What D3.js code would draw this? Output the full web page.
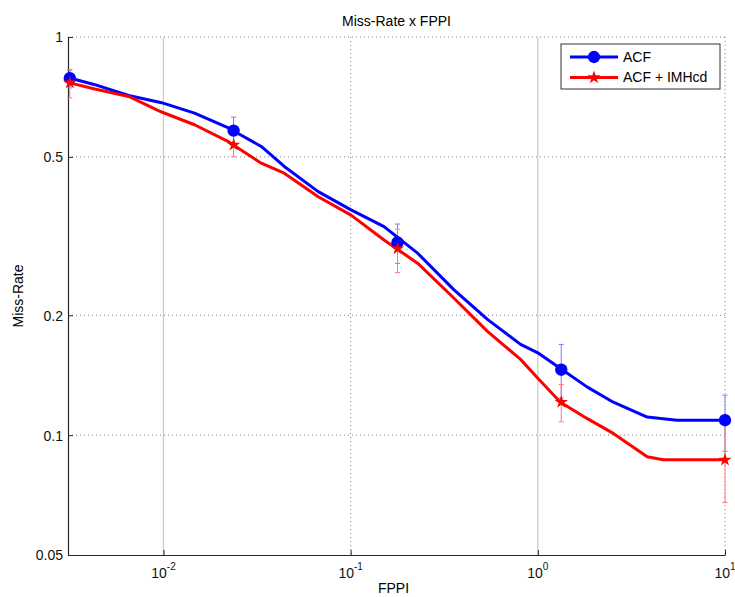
<!DOCTYPE html>
<html>
<head>
<meta charset="utf-8">
<script src="https://cdnjs.cloudflare.com/ajax/libs/d3/7.8.5/d3.min.js"></script>
<style>
  body { margin: 0; background: #fff; }
  svg { font-family: "Liberation Sans", Arial, sans-serif; }
</style>
</head>
<body>
<script>
// curve samples (FPPI vs miss rate)
const fppi = [0.00316, 0.0043, 0.00652, 0.00977, 0.01465, 0.02223, 0.0333, 0.0442, 0.0671, 0.1005,
              0.1508, 0.2287, 0.3556, 0.54, 0.809, 1.0, 1.321, 1.84, 2.531, 3.842, 4.675, 5.55, 10];
const acf = [0.789, 0.759, 0.713, 0.684, 0.644, 0.591, 0.531, 0.473, 0.409, 0.368,
             0.334, 0.286, 0.232, 0.195, 0.169, 0.161, 0.147, 0.132, 0.121, 0.111, 0.110, 0.109, 0.109];
const acfImh = [0.767, 0.740, 0.709, 0.648, 0.602, 0.546, 0.482, 0.455, 0.397, 0.357,
                0.309, 0.270, 0.221, 0.182, 0.155, 0.139, 0.121, 0.110, 0.101, 0.0883, 0.0867, 0.0867, 0.0867];

// markers with error bars
const markerFppi = [0.00316, 0.0237, 0.178, 1.334, 10];
const acfMark = [0.788, 0.582, 0.305, 0.146, 0.109];
const acfLo = [0.745, 0.539, 0.270, 0.124, 0.091];
const acfHi = [0.827, 0.629, 0.339, 0.169, 0.126];
const imhMark = [0.768, 0.536, 0.294, 0.121, 0.0867];
const imhLo = [0.703, 0.500, 0.256, 0.108, 0.0677];
const imhHi = [0.827, 0.568, 0.329, 0.134, 0.109];

const seriesNames = ["ACF", "ACF + IMHcd"];
const xTicks = [0.01, 0.1, 1, 10];
const xTickExp = ["-2", "-1", "0", "1"];
const yTicks = [0.05, 0.1, 0.2, 0.5, 1];
const yTickLabels = ["0.05", "0.1", "0.2", "0.5", "1"];

const W = 735, H = 597;
const L = 68, R = 725, T = 37, B = 555;

const svg = d3.select("body").append("svg")
  .attr("width", W).attr("height", H);

const x = d3.scaleLog().domain([Math.pow(10, -2.51), 10]).range([L, R]);
const y = d3.scaleLog().domain([0.05, 1]).range([B, T]);

// grid
const grid = svg.append("g");
// solid light lines at 10^-2 and 10^0, dotted at others
[0.01, 1].forEach(v => {
  grid.append("line")
    .attr("x1", x(v)).attr("x2", x(v)).attr("y1", T).attr("y2", B)
    .attr("stroke", "#c8c8c8").attr("stroke-width", 1.2);
});
[0.1, 10].forEach(v => {
  grid.append("line")
    .attr("x1", x(v)).attr("x2", x(v)).attr("y1", T).attr("y2", B)
    .attr("stroke", "#808080").attr("stroke-width", 1)
    .attr("stroke-dasharray", "1,3");
});
[0.1, 0.2, 0.5, 1].forEach(v => {
  grid.append("line")
    .attr("x1", L).attr("x2", R).attr("y1", y(v)).attr("y2", y(v))
    .attr("stroke", "#808080").attr("stroke-width", 1)
    .attr("stroke-dasharray", "1,3");
});

// axes
const xAxis = svg.append("g")
  .attr("transform", `translate(0,${B})`)
  .call(d3.axisBottom(x).tickValues(xTicks).tickSizeInner(-5).tickSizeOuter(0).tickPadding(10).tickFormat(""));
const yAxis = svg.append("g")
  .attr("transform", `translate(${L},0)`)
  .call(d3.axisLeft(y).tickValues(yTicks).tickSizeInner(-5).tickSizeOuter(0).tickPadding(5)
    .tickFormat((d, i) => yTickLabels[i]));
[xAxis, yAxis].forEach(a => {
  a.select(".domain").attr("stroke", "#262626").attr("stroke-width", 1.2);
  a.selectAll(".tick line").attr("stroke", "#262626");
});
yAxis.selectAll(".tick text")
  .attr("font-size", 14).attr("fill", "#111")
  .attr("x", -5).attr("dy", "0.35em");

// x labels as 10 with superscript
xTicks.forEach((v, i) => {
  const t = svg.append("text")
    .attr("x", x(v)).attr("y", 578)
    .attr("text-anchor", "middle")
    .attr("font-size", 14).attr("fill", "#111");
  t.append("tspan").text("10");
  t.append("tspan").attr("font-size", 10).attr("dy", -8).text(xTickExp[i]);
});

// title & labels
svg.append("text").attr("x", (L + R) / 2).attr("y", 26)
  .attr("text-anchor", "middle").attr("font-size", 14).text("Miss-Rate x FPPI");
svg.append("text").attr("x", (L + R) / 2 - 3).attr("y", 593)
  .attr("text-anchor", "middle").attr("font-size", 14).text("FPPI");
svg.append("text")
  .attr("transform", `translate(23,${(T + B) / 2}) rotate(-90)`)
  .attr("text-anchor", "middle").attr("font-size", 14).text("Miss-Rate");

// error bars
const plot = svg.append("g");
function errorBars(lo, hi, color) {
  markerFppi.forEach((f, i) => {
    const cx = x(f);
    plot.append("line").attr("x1", cx).attr("x2", cx).attr("y1", y(lo[i])).attr("y2", y(hi[i]))
      .attr("stroke", color).attr("stroke-width", 1);
    [lo[i], hi[i]].forEach(v => {
      plot.append("line").attr("x1", cx - 2.5).attr("x2", cx + 2.5).attr("y1", y(v)).attr("y2", y(v))
        .attr("stroke", color).attr("stroke-width", 1);
    });
  });
}
errorBars(acfLo, acfHi, "#7a7aff");
errorBars(imhLo, imhHi, "#ff7a7a");

// curves
const line = d3.line().x(d => x(d[0])).y(d => y(d[1]));
plot.append("path").datum(d3.zip(fppi, acf))
  .attr("d", line).attr("fill", "none").attr("stroke", "#0000ff").attr("stroke-width", 3)
  .attr("stroke-linejoin", "round");
plot.append("path").datum(d3.zip(fppi, acfImh))
  .attr("d", line).attr("fill", "none").attr("stroke", "#ff0000").attr("stroke-width", 3)
  .attr("stroke-linejoin", "round");

// markers
const circleSym = d3.symbol().type(d3.symbolCircle).size(120);
const starSym = d3.symbol().type(d3.symbolStar).size(55);
plot.selectAll(".mA").data(d3.zip(markerFppi, acfMark)).enter().append("path")
  .attr("d", circleSym).attr("fill", "#0000ff")
  .attr("transform", d => `translate(${x(d[0])},${y(d[1])})`);
plot.selectAll(".mB").data(d3.zip(markerFppi, imhMark)).enter().append("path")
  .attr("d", starSym).attr("fill", "#ff0000")
  .attr("transform", d => `translate(${x(d[0])},${y(d[1])})`);

// legend
const lg = svg.append("g");
lg.append("rect").attr("x", 561).attr("y", 44).attr("width", 159).attr("height", 45)
  .attr("fill", "#fff").attr("stroke", "#333").attr("stroke-width", 1);
const colors = ["#0000ff", "#ff0000"];
const syms = [circleSym, starSym];
seriesNames.forEach((n, i) => {
  const cy = 57 + i * 20.5;
  lg.append("line").attr("x1", 570).attr("x2", 618).attr("y1", cy).attr("y2", cy)
    .attr("stroke", colors[i]).attr("stroke-width", 3);
  lg.append("path").attr("d", syms[i]).attr("fill", colors[i])
    .attr("transform", `translate(594,${cy})`);
  lg.append("text").attr("x", 623).attr("y", cy).attr("dy", "0.35em")
    .attr("font-size", 14).text(n);
});
</script>
</body>
</html>
